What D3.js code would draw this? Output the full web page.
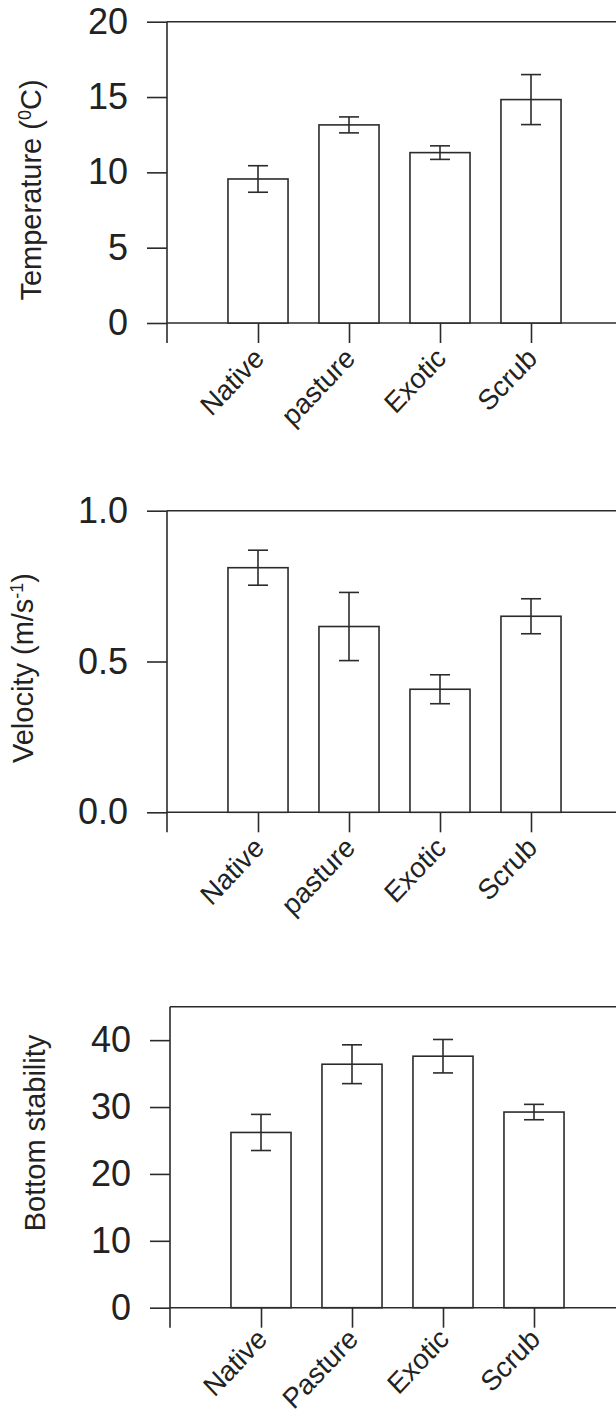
<!DOCTYPE html>
<html><head><meta charset="utf-8">
<script src="https://cdn.jsdelivr.net/npm/d3@7"></script>
<style>body{margin:0;background:#fff}svg{display:block}</style>
</head><body><svg id="c" width="616" height="1417"></svg>
<script>
// ---- data ----
const categoriesTop = ["Native", "pasture", "Exotic", "Scrub"];
const categoriesBottom = ["Native", "Pasture", "Exotic", "Scrub"];
const temperature = [9.56, 13.15, 11.31, 14.83];
const temperatureErr = [0.88, 0.53, 0.45, 1.66];
const velocity = [0.811, 0.616, 0.408, 0.650];
const velocityErr = [0.058, 0.113, 0.048, 0.058];
const stability = [26.2, 36.4, 37.6, 29.25];
const stabilityErr = [2.7, 2.9, 2.5, 1.15];
const tempTicks = [0, 5, 10, 15, 20];
const velTicks = [0, 0.5, 1.0];
const stabTicks = [0, 10, 20, 30, 40];

// ---- layout ----
const INK = "#2b2b2b";
const FONT = "'Liberation Sans', Arial, Helvetica, sans-serif";
const svg = d3.select("#c");
svg.append("rect").attr("width", 616).attr("height", 1417).attr("fill", "#fff");

const panels = [
  {values: temperature, errs: temperatureErr, cats: categoriesTop, ticks: tempTicks, fmt: d3.format("d"),
   ymax: 20, top: 21.7, bottom: 323, ax: 167, titleX: 41, titleY: 190, labOff: 17,
   title: [["Temperature (", 0], ["0", 1], ["C)", -1]]},
  {values: velocity, errs: velocityErr, cats: categoriesTop, ticks: velTicks, fmt: d3.format(".1f"),
   ymax: 1.0, top: 510.7, bottom: 812.3, ax: 167, titleX: 33, titleY: 668, labOff: 17,
   title: [["Velocity (m/s", 0], ["-1", 1], [")", -1]]},
  {values: stability, errs: stabilityErr, cats: categoriesBottom, ticks: stabTicks, fmt: d3.format("d"),
   ymax: 45, top: 1006.7, bottom: 1307.7, ax: 170, titleX: 45, titleY: 1133, labOff: 13,
   title: [["Bottom stability", 0]]}
];

const STEP = 91, TICK = 20, RIGHT = 620;

panels.forEach(p => {
  const g = svg.append("g");
  const x = d3.scaleLinear().domain([0, 5]).range([p.ax, p.ax + 5 * STEP]);
  const y = d3.scaleLinear().domain([0, p.ymax]).range([p.bottom, p.top]);
  const half = 0.33;

  // frame lines
  g.append("line").attr("x1", p.ax).attr("x2", RIGHT).attr("y1", y(p.ymax)).attr("y2", y(p.ymax))
    .attr("stroke", INK).attr("stroke-width", 1.6);
  g.append("line").attr("x1", p.ax).attr("x2", RIGHT).attr("y1", y(0)).attr("y2", y(0))
    .attr("stroke", INK).attr("stroke-width", 1.6);
  g.append("line").attr("x1", p.ax).attr("x2", p.ax).attr("y1", y(p.ymax)).attr("y2", y(0) + TICK)
    .attr("stroke", INK).attr("stroke-width", 1.6);

  // y axis
  const ya = g.append("g").attr("transform", `translate(${p.ax},0)`)
    .call(d3.axisLeft(y).tickValues(p.ticks).tickFormat(p.fmt).tickSize(TICK).tickPadding(19));
  ya.select(".domain").remove();
  ya.selectAll("line").attr("stroke", INK).attr("stroke-width", 1.6);
  ya.selectAll("text").attr("font-family", FONT).attr("font-size", 36).attr("fill", "#222");

  // x axis
  const idx = p.cats.map((c, i) => i + 1);
  const xa = g.append("g").attr("transform", `translate(0,${y(0)})`)
    .call(d3.axisBottom(x).tickValues(idx).tickFormat(d => p.cats[d - 1]).tickSize(TICK).tickSizeOuter(0));
  xa.select(".domain").remove();
  xa.selectAll("line").attr("stroke", INK).attr("stroke-width", 1.6);
  xa.selectAll("text").attr("font-family", FONT).attr("font-size", 27).attr("fill", "#222")
    .attr("text-anchor", "end").attr("x", 0).attr("y", 0).attr("dy", 0)
    .attr("transform", `translate(7,${TICK + p.labOff}) scale(1,1.06) rotate(-45)`);

  // bars
  const data = p.values.map((v, i) => ({i: i + 1, v, e: p.errs[i]}));
  g.selectAll("rect.bar").data(data).join("rect").attr("class", "bar")
    .attr("x", d => x(d.i - half)).attr("width", d => x(d.i + half) - x(d.i - half))
    .attr("y", d => y(d.v)).attr("height", d => y(0) - y(d.v))
    .attr("fill", "#fff").attr("stroke", INK).attr("stroke-width", 1.6);

  // error bars
  const cap = 0.11;
  const eb = g.selectAll("g.err").data(data).join("g").attr("class", "err")
    .attr("stroke", INK).attr("stroke-width", 1.6);
  eb.append("line").attr("x1", d => x(d.i)).attr("x2", d => x(d.i))
    .attr("y1", d => y(d.v + d.e)).attr("y2", d => y(d.v - d.e));
  eb.append("line").attr("x1", d => x(d.i - cap)).attr("x2", d => x(d.i + cap))
    .attr("y1", d => y(d.v + d.e)).attr("y2", d => y(d.v + d.e));
  eb.append("line").attr("x1", d => x(d.i - cap)).attr("x2", d => x(d.i + cap))
    .attr("y1", d => y(d.v - d.e)).attr("y2", d => y(d.v - d.e));

  // title
  const t = g.append("text").attr("font-family", FONT).attr("font-size", 29).attr("fill", "#222")
    .attr("text-anchor", "middle").attr("transform", `translate(${p.titleX},${p.titleY}) rotate(-90)`);
  p.title.forEach(([s, sup]) => {
    const ts = t.append("tspan").text(s);
    if (sup === 1) ts.attr("font-size", 18).attr("dy", "-0.55em");
    if (sup === -1) ts.attr("dy", "0.35em");
  });
});
</script>
</body></html>
